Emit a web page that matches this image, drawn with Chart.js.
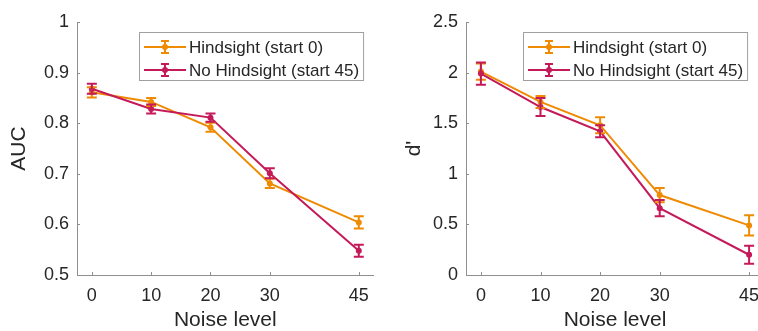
<!DOCTYPE html>
<html>
<head>
<meta charset="utf-8">
<script src="https://cdn.jsdelivr.net/npm/chart.js@4.4.0/dist/chart.umd.min.js"></script>
<style>
  html, body { margin: 0; padding: 0; background: #fff; overflow: hidden; }
  #left { position: absolute; left: 0; top: 0; }
  #right { position: absolute; left: 379px; top: 0; }
</style>
</head>
<body>
<div id="left"><canvas id="aucChart" width="379" height="331"></canvas></div>
<div id="right"><canvas id="dChart" width="400" height="331"></canvas></div>
<script>
const noiseLevels = [0, 10, 20, 30, 45];
const seriesNames = ["Hindsight (start 0)", "No Hindsight (start 45)"];

// AUC panel
const aucHindsight = [0.861, 0.842, 0.792, 0.681, 0.604];
const aucHindsightErr = [0.010, 0.008, 0.009, 0.009, 0.012];
const aucNoHindsight = [0.868, 0.828, 0.811, 0.701, 0.548];
const aucNoHindsightErr = [0.010, 0.009, 0.008, 0.010, 0.012];

// d' panel
const dHindsight = [2.01, 1.71, 1.48, 0.79, 0.49];
const dHindsightErr = [0.08, 0.06, 0.08, 0.07, 0.10];
const dNoHindsight = [1.99, 1.66, 1.42, 0.66, 0.20];
const dNoHindsightErr = [0.11, 0.09, 0.06, 0.08, 0.09];

const xTicks = [0, 10, 20, 30, 45];
const aucTicks = [0.5, 0.6, 0.7, 0.8, 0.9, 1];
const dTicks = [0, 0.5, 1, 1.5, 2, 2.5];

const orange = '#EF8A03';
const magenta = '#C41A5A';
const textColor = '#262626';
const axisColor = '#8f8f8f';
const fontFamily = '"Liberation Sans", Arial, sans-serif';

// vertical error bars with caps, drawn through the chart's scales
const errorBars = {
  id: 'errorBars',
  afterDatasetsDraw(chart) {
    const ctx = chart.ctx;
    const xs = chart.scales.x, ys = chart.scales.y;
    ctx.save();
    chart.data.datasets.forEach(ds => {
      ctx.strokeStyle = ds.borderColor;
      ctx.lineWidth = 2;
      ds.data.forEach((pt, i) => {
        const px = xs.getPixelForValue(pt.x);
        const top = ys.getPixelForValue(pt.y + ds.errors[i]);
        const bot = ys.getPixelForValue(pt.y - ds.errors[i]);
        ctx.beginPath();
        ctx.moveTo(px, top); ctx.lineTo(px, bot);
        ctx.moveTo(px - 5, top); ctx.lineTo(px + 5, top);
        ctx.moveTo(px - 5, bot); ctx.lineTo(px + 5, bot);
        ctx.stroke();
      });
    });
    ctx.restore();
  }
};

// small tick marks pointing into the axes
const innerTicks = {
  id: 'innerTicks',
  afterDraw(chart) {
    const ctx = chart.ctx;
    const xs = chart.scales.x, ys = chart.scales.y;
    ctx.save();
    ctx.strokeStyle = axisColor;
    ctx.lineWidth = 1;
    ctx.beginPath();
    xs.ticks.forEach(t => {
      const px = Math.round(xs.getPixelForValue(t.value)) + 0.5;
      ctx.moveTo(px, ys.bottom); ctx.lineTo(px, ys.bottom - 3);
    });
    ys.ticks.forEach(t => {
      const py = Math.round(ys.getPixelForValue(t.value)) + 0.5;
      ctx.moveTo(xs.left, py); ctx.lineTo(xs.left + 3, py);
    });
    ctx.stroke();
    ctx.restore();
  }
};

// boxed legend in the top-right of the plot
const boxLegend = {
  id: 'boxLegend',
  afterDraw(chart, args, opts) {
    const ctx = chart.ctx;
    ctx.save();
    ctx.font = '17px ' + fontFamily;
    const labels = chart.data.datasets.map(ds => ds.label);
    const maxW = Math.max(...labels.map(l => ctx.measureText(l).width));
    const left = opts.left, top = opts.top;
    const w = 50 + maxW + 4, h = 48;
    ctx.fillStyle = '#fff';
    ctx.fillRect(left, top, w, h);
    ctx.strokeStyle = '#a0a0a0';
    ctx.lineWidth = 1;
    ctx.strokeRect(left + 0.5, top + 0.5, w, h);
    chart.data.datasets.forEach((ds, i) => {
      const y = top + 15 + i * 23;
      const cx = left + 26;
      ctx.strokeStyle = ds.borderColor;
      ctx.lineWidth = 2;
      ctx.beginPath();
      ctx.moveTo(left + 5, y); ctx.lineTo(left + 47, y);
      ctx.moveTo(cx, y - 6); ctx.lineTo(cx, y + 6);
      ctx.moveTo(cx - 4, y - 6); ctx.lineTo(cx + 4, y - 6);
      ctx.moveTo(cx - 4, y + 6); ctx.lineTo(cx + 4, y + 6);
      ctx.stroke();
      ctx.fillStyle = ds.borderColor;
      ctx.beginPath();
      ctx.arc(cx, y, 3, 0, Math.PI * 2);
      ctx.fill();
      ctx.fillStyle = textColor;
      ctx.textBaseline = 'middle';
      ctx.fillText(ds.label, left + 50, y + 1);
    });
    ctx.restore();
  }
};

function toPoints(values) {
  return values.map((v, i) => ({x: noiseLevels[i], y: v}));
}

function makeDataset(label, values, errs, color, order) {
  return {
    label: label,
    data: toPoints(values),
    errors: errs,
    borderColor: color,
    backgroundColor: color,
    borderWidth: 2,
    pointRadius: 3,
    pointBorderWidth: 0,
    pointBackgroundColor: color,
    tension: 0,
    order: order
  };
}

function makeChart(canvasId, series, yMin, yMax, yTickVals, yTitle, cfg) {
  const ctx = document.getElementById(canvasId).getContext('2d');
  return new Chart(ctx, {
    type: 'line',
    data: {
      datasets: [
        makeDataset(seriesNames[0], series[0], series[1], orange, 1),
        makeDataset(seriesNames[1], series[2], series[3], magenta, 0)
      ]
    },
    options: {
      responsive: false,
      animation: false,
      layout: { padding: { top: 22, left: 0, right: cfg.padRight, bottom: 0 } },
      plugins: {
        legend: { display: false },
        tooltip: { enabled: false },
        boxLegend: { left: cfg.legendLeft, top: 32 }
      },
      scales: {
        x: {
          type: 'linear',
          min: -2.5,
          max: 47.5,
          afterBuildTicks: scale => { scale.ticks = xTicks.map(v => ({value: v})); },
          afterFit: scale => { scale.height = 56; },
          border: { color: axisColor, width: 1 },
          grid: { drawOnChartArea: false, drawTicks: false },
          ticks: {
            color: textColor,
            font: { family: fontFamily, size: 18 },
            padding: 10,
            maxRotation: 0,
            autoSkip: false
          },
          title: {
            display: true,
            text: 'Noise level',
            color: textColor,
            font: { family: fontFamily, size: 21, lineHeight: 1 },
            padding: { top: 0, bottom: 0 }
          }
        },
        y: {
          min: yMin,
          max: yMax,
          afterBuildTicks: scale => { scale.ticks = yTickVals.map(v => ({value: v})); },
          afterFit: scale => { scale.width = cfg.yWidth; },
          border: { color: axisColor, width: 1 },
          grid: { drawOnChartArea: false, drawTicks: false },
          ticks: {
            color: textColor,
            font: { family: fontFamily, size: 18 },
            padding: 8,
            callback: v => String(v)
          },
          title: {
            display: true,
            text: yTitle,
            color: textColor,
            font: { family: fontFamily, size: 21 },
            padding: { top: cfg.titlePad, bottom: 0 }
          }
        }
      }
    },
    plugins: [errorBars, innerTicks, boxLegend]
  });
}

makeChart('aucChart',
  [aucHindsight, aucHindsightErr, aucNoHindsight, aucNoHindsightErr],
  0.5, 1, aucTicks, 'AUC',
  { yWidth: 77, titlePad: 7, legendLeft: 139, padRight: 0 });

makeChart('dChart',
  [dHindsight, dHindsightErr, dNoHindsight, dNoHindsightErr],
  0, 2.5, dTicks, "d'",
  { yWidth: 87, titlePad: 23, legendLeft: 144, padRight: 15 });
</script>
</body>
</html>
